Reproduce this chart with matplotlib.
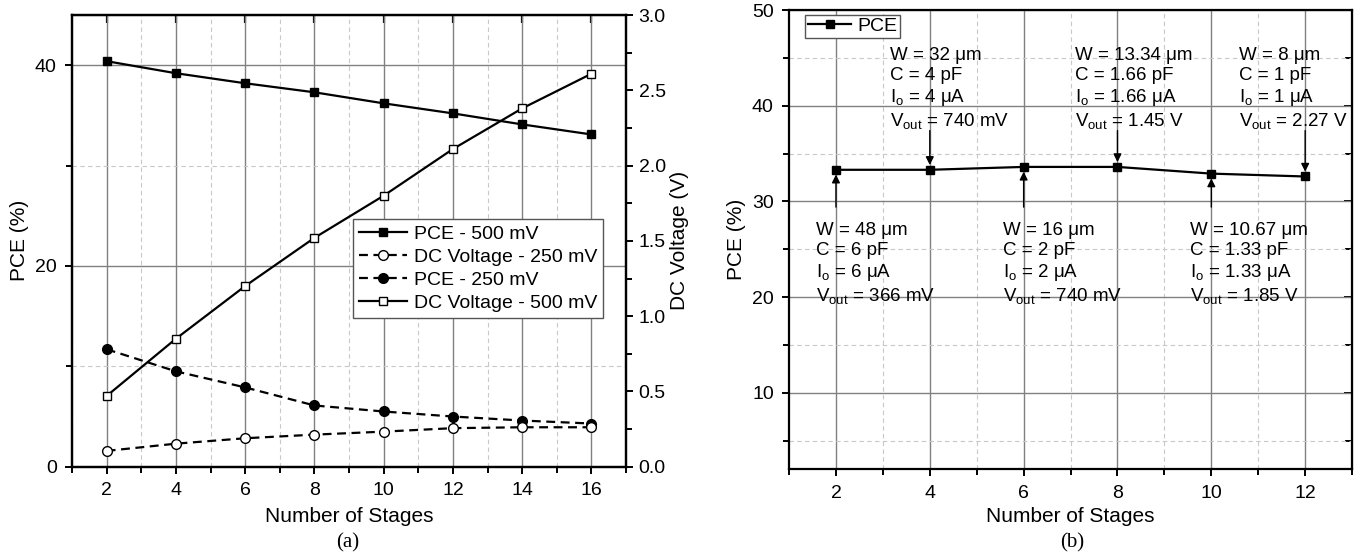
import matplotlib
matplotlib.use("Agg")
import matplotlib.pyplot as plt
from matplotlib.ticker import MultipleLocator, FormatStrFormatter

plt.rcParams['font.family'] = ['Liberation Sans', 'DejaVu Sans']
plt.rcParams['mathtext.fontset'] = 'custom'
plt.rcParams['mathtext.rm'] = 'Liberation Sans'
plt.rcParams['mathtext.it'] = 'Liberation Sans'
plt.rcParams['font.size'] = 14

# ---- (a) data ----
stages_a = [2, 4, 6, 8, 10, 12, 14, 16]
pce_500 = [40.4, 39.2, 38.2, 37.3, 36.2, 35.2, 34.1, 33.1]
pce_250 = [11.7, 9.5, 7.9, 6.1, 5.5, 5.0, 4.6, 4.3]
dc_500 = [0.47, 0.85, 1.20, 1.52, 1.80, 2.11, 2.38, 2.61]
dc_250 = [0.105, 0.153, 0.189, 0.213, 0.233, 0.256, 0.262, 0.262]

# ---- (b) data ----
stages_b = [2, 4, 6, 8, 10, 12]
pce_b = [33.3, 33.3, 33.6, 33.6, 32.9, 32.6]
widths = ['48', '32', '16', '13.34', '10.67', '8']
caps = ['6', '4', '2', '1.66', '1.33', '1']
currents = ['6', '4', '2', '1.66', '1.33', '1']
vouts = ['366 mV', '740 mV', '740 mV', '1.45 V', '1.85 V', '2.27 V']
label_x = [1.57, 3.15, 5.55, 7.1, 9.55, 10.6]

fig = plt.figure(figsize=(13.67, 5.56), dpi=100)

grid_major = dict(color='#808080', lw=1.0, ls='-')
grid_minor = dict(color='#c8c8c8', lw=0.8, ls=(0, (4, 3)))


def style_axis(ax):
    for s in ax.spines.values():
        s.set_linewidth(1.6)
    ax.tick_params(which='both', direction='out', width=1.4, labelsize=14, pad=6)
    ax.tick_params(which='major', length=5)
    ax.tick_params(which='minor', length=4)
    ax.grid(True, which='major', **grid_major)
    ax.grid(True, which='minor', **grid_minor)
    ax.set_axisbelow(True)


# ---------------- panel (a) ----------------
ax = fig.add_axes([0.0527, 0.1606, 0.4053, 0.8124])
ax2 = ax.twinx()
ax.set_xlim(1, 17)
ax.set_ylim(0, 45)
ax2.set_ylim(0, 3)
ax.xaxis.set_major_locator(MultipleLocator(2))
ax.xaxis.set_minor_locator(MultipleLocator(1))
ax.yaxis.set_major_locator(MultipleLocator(20))
ax.yaxis.set_minor_locator(MultipleLocator(10))
ax2.yaxis.set_major_locator(MultipleLocator(0.5))
ax2.yaxis.set_minor_locator(MultipleLocator(0.25))
style_axis(ax)
ax2.tick_params(which='both', direction='out', width=1.4, labelsize=14, pad=4)
ax2.tick_params(which='major', length=5)
ax2.tick_params(which='minor', length=4)
ax2.yaxis.set_major_formatter(FormatStrFormatter('%.1f'))
for s in ax2.spines.values():
    s.set_linewidth(1.6)

top_a = ax.secondary_xaxis('top')
top_a.xaxis.set_major_locator(MultipleLocator(2))
top_a.tick_params(direction='in', length=6, width=1.6, labeltop=False)

ms = 6
l1, = ax.plot(stages_a, pce_500, '-', color='black', lw=1.6, marker='s', ms=ms,
              mfc='black', mec='black')
l3, = ax.plot(stages_a, pce_250, color='black', lw=1.6, ls=(0, (4, 2.5)),
              marker='o', ms=ms + 1, mfc='black', mec='black')
l2, = ax2.plot(stages_a, dc_250, color='black', lw=1.6, ls=(0, (4, 2.5)),
               marker='o', ms=ms + 1, mfc='white', mec='black')
l4, = ax2.plot(stages_a, dc_500, '-', color='black', lw=1.6, marker='s', ms=ms,
               mfc='white', mec='black')

ax.set_xlabel('Number of Stages', fontsize=15, labelpad=6)
ax.set_ylabel('PCE (%)', fontsize=15, labelpad=4)
ax2.set_ylabel('DC Voltage (V)', fontsize=15, labelpad=3)

leg = ax2.legend([l1, l2, l3, l4],
                 ['PCE - 500 mV', 'DC Voltage - 250 mV', 'PCE - 250 mV', 'DC Voltage - 500 mV'],
                 loc='upper left', bbox_to_anchor=(0.507, 0.548), fontsize=14,
                 fancybox=False, framealpha=1, edgecolor='#555555',
                 handlelength=2.5, handletextpad=0.35, borderpad=0.3, labelspacing=0.28,
                 borderaxespad=0)
leg.get_frame().set_linewidth(1.0)

# ---------------- panel (b) ----------------
bx = fig.add_axes([0.5772, 0.156, 0.4119, 0.826])
bx.set_xlim(1, 13)
bx.set_ylim(2, 50)
bx.xaxis.set_major_locator(MultipleLocator(2))
bx.xaxis.set_minor_locator(MultipleLocator(1))
bx.yaxis.set_major_locator(MultipleLocator(10))
bx.yaxis.set_minor_locator(MultipleLocator(5))
style_axis(bx)
bx.set_yticks([10, 20, 30, 40, 50])

right_b = bx.secondary_yaxis('right')
right_b.yaxis.set_major_locator(MultipleLocator(10))
right_b.yaxis.set_minor_locator(MultipleLocator(5))
right_b.tick_params(which='both', direction='in', width=1.4, labelright=False)
right_b.tick_params(which='major', length=6)
right_b.tick_params(which='minor', length=5)

bx.plot(stages_b, pce_b, '-', color='black', lw=1.6, marker='s', ms=ms,
        mfc='black', mec='black', label='PCE')
lg = bx.legend(loc='upper left', bbox_to_anchor=(0.029, 0.99), fontsize=14,
               fancybox=False, framealpha=1, edgecolor='#555555',
               handlelength=2.2, handletextpad=0.3, borderpad=0.15, borderaxespad=0)
lg.get_frame().set_linewidth(1.0)

for i, x in enumerate(stages_b):
    txt = ('W = %s μm\nC = %s pF\nI$_{\\mathrm{o}}$ = %s μA\nV$_{\\mathrm{out}}$ = %s'
           % (widths[i], caps[i], currents[i], vouts[i]))
    if i % 2 == 1:
        bx.text(label_x[i], 46.15, txt, ha='left', va='top', fontsize=13.5, linespacing=1.22)
        bx.annotate('', xy=(x, pce_b[i] + 0.5), xytext=(x, 37.4),
                    arrowprops=dict(arrowstyle='-|>', color='black', lw=1.0,
                                    mutation_scale=12, shrinkA=0, shrinkB=0))
    else:
        bx.text(label_x[i], 27.85, txt, ha='left', va='top', fontsize=13.5, linespacing=1.22)
        bx.annotate('', xy=(x, pce_b[i] - 0.5), xytext=(x, 29.4),
                    arrowprops=dict(arrowstyle='-|>', color='black', lw=1.0,
                                    mutation_scale=12, shrinkA=0, shrinkB=0))

bx.set_xlabel('Number of Stages', fontsize=15, labelpad=4)
bx.set_ylabel('PCE (%)', fontsize=15, labelpad=4)

fig.text(348 / 1367, 1 - 543 / 556, '(a)', family='Liberation Serif', fontsize=15,
         ha='center', va='center')
fig.text(1072 / 1367, 1 - 543 / 556, '(b)', family='Liberation Serif', fontsize=15,
         ha='center', va='center')

fig.savefig('out.png', dpi=100)
